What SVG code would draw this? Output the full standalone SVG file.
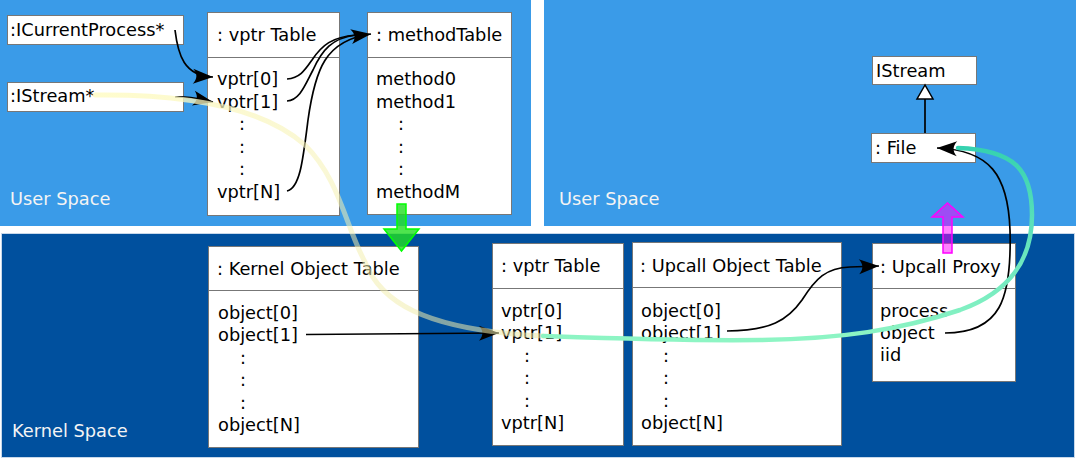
<svg xmlns="http://www.w3.org/2000/svg" width="1076" height="458" viewBox="0 0 1076 458">
<defs>
<style>
text{font-family:"DejaVu Sans","Liberation Sans",sans-serif;font-size:17.8px;fill:#000}
.lbl{fill:#f4f4f4}
.box{fill:#fff;stroke:#777;stroke-width:1}
.div{stroke:#777;stroke-width:1}
.con{fill:none;stroke:#000;stroke-width:1.7}
.arr{marker-end:url(#ah)}
</style>
<marker id="ah" markerUnits="userSpaceOnUse" markerWidth="24" markerHeight="20" viewBox="-22 -10 24 20" refX="0" refY="0" orient="auto">
<path d="M0,0 L-20,-7.5 C-15.5,-2.5 -15.5,2.5 -20,7.5 Z" fill="#000"/>
</marker>
<linearGradient id="gy" gradientUnits="userSpaceOnUse" x1="95" y1="95" x2="543" y2="336">
<stop offset="0" stop-color="#fffcc8" stop-opacity="0.9"/>
<stop offset="0.45" stop-color="#f6f2b4" stop-opacity="0.55"/>
<stop offset="1" stop-color="#ece8a8" stop-opacity="0.55"/>
</linearGradient>
<linearGradient id="gg" gradientUnits="userSpaceOnUse" x1="0" y1="340" x2="0" y2="150">
<stop offset="0" stop-color="#8ef5c4"/>
<stop offset="0.4" stop-color="#6ee8bf"/>
<stop offset="1" stop-color="#36d2b0"/>
</linearGradient>
</defs>
<rect width="1076" height="458" fill="#fff"/>
<g id="panels">
<rect x="0" y="0" width="531" height="226" fill="#3a9be8"/>
<rect x="544" y="0" width="532" height="226" fill="#3a9be8"/>
<rect x="1.5" y="233.5" width="1073" height="224" fill="#00509e" stroke="#c8d8ea" stroke-width="1"/>
<text class="lbl" x="10" y="205">User Space</text>
<text class="lbl" x="559" y="205">User Space</text>
<text class="lbl" x="12" y="437">Kernel Space</text>
</g>
<g id="icurrentprocess">
<rect class="box" x="7.5" y="15.5" width="176" height="29"/>
<text x="10" y="36">:ICurrentProcess*</text>
</g>
<g id="istream-ptr">
<rect class="box" x="7.5" y="82.5" width="176" height="29"/>
<text x="10" y="102">:IStream*</text>
</g>
<g id="user-vptr-table">
<rect class="box" x="207.5" y="12.5" width="132" height="203"/>
<line class="div" x1="207.5" y1="57.5" x2="339.5" y2="57.5"/>
<text x="217" y="41">: vptr Table</text>
<text x="217" y="85">vptr[0]</text>
<text x="217" y="107.5">vptr[1]</text>
<text x="239" y="130">:</text>
<text x="239" y="152.5">:</text>
<text x="239" y="175">:</text>
<text x="217" y="197.5">vptr[N]</text>
</g>
<g id="method-table">
<rect class="box" x="367.5" y="12.5" width="144" height="202"/>
<line class="div" x1="367.5" y1="57.5" x2="511.5" y2="57.5"/>
<text x="376" y="41">: methodTable</text>
<text x="376" y="85">method0</text>
<text x="376" y="107.5">method1</text>
<text x="398" y="130">:</text>
<text x="398" y="152.5">:</text>
<text x="398" y="175">:</text>
<text x="376" y="197.5">methodM</text>
</g>
<g id="istream-class">
<rect class="box" x="872.5" y="56.5" width="104" height="28"/>
<text x="876" y="77">IStream</text>
</g>
<g id="file">
<rect class="box" x="871.5" y="133.5" width="104" height="29"/>
<text x="875" y="154">: File</text>
</g>
<g id="kernel-object-table">
<rect class="box" x="208.5" y="246.5" width="210" height="201"/>
<line class="div" x1="208.5" y1="290.5" x2="418.5" y2="290.5"/>
<text x="217" y="275">: Kernel Object Table</text>
<text x="218" y="318.5">object[0]</text>
<text x="218" y="341">object[1]</text>
<text x="240" y="363.5">:</text>
<text x="240" y="386">:</text>
<text x="240" y="408.5">:</text>
<text x="218" y="431">object[N]</text>
</g>
<g id="kernel-vptr-table">
<rect class="box" x="492.5" y="243.5" width="131" height="202"/>
<line class="div" x1="492.5" y1="288.5" x2="623.5" y2="288.5"/>
<text x="501" y="272">: vptr Table</text>
<text x="501" y="316.5">vptr[0]</text>
<text x="501" y="339">vptr[1]</text>
<text x="524" y="361.5">:</text>
<text x="524" y="384">:</text>
<text x="524" y="406.5">:</text>
<text x="501" y="428.5">vptr[N]</text>
</g>
<g id="upcall-object-table">
<rect class="box" x="632.5" y="242.5" width="209" height="203"/>
<line class="div" x1="632.5" y1="287.5" x2="841.5" y2="287.5"/>
<text x="640" y="272">: Upcall Object Table</text>
<text x="641" y="316.5">object[0]</text>
<text x="641" y="339">object[1]</text>
<text x="663" y="361.5">:</text>
<text x="663" y="384">:</text>
<text x="663" y="406.5">:</text>
<text x="641" y="428.5">object[N]</text>
</g>
<g id="upcall-proxy">
<rect class="box" x="872.5" y="243.5" width="143" height="138"/>
<line class="div" x1="872.5" y1="288.5" x2="1015.5" y2="288.5"/>
<text x="880" y="273">: Upcall Proxy</text>
<text x="880" y="317">process</text>
<text x="880" y="339">object</text>
<text x="880" y="361">iid</text>
</g>
<g id="connectors">
<path class="con arr" d="M175,30 C178,55 184,76 213,77"/>
<path class="con arr" d="M175,97 C190,96 198,99 213,102"/>
<path class="con" d="M287,79 C300,78 305,70 312,60 C322,45 332,37 356,35"/>
<path class="con" d="M287,101 C300,100 305,85 313,70 C322,50 332,38 356,35"/>
<path class="con arr" d="M287,191 C300,188 303,160 308,120 C315,70 325,40 371,34"/>
<path class="con arr" d="M306,334.5 L499,333"/>
<path class="con arr" d="M727,331 C770,331 788,320 802,300 C816,278 826,268 850,267 L879,266"/>
<path class="con arr" d="M945,333 C1000,333 1012,300 1010,230 C1008,175 990,150 937,148"/>
<line x1="925" y1="133" x2="925" y2="99" stroke="#000" stroke-width="1.7"/>
<polygon points="925,85 917,99 933,99" fill="#fff" stroke="#000" stroke-width="1.5"/>
<path d="M95,95 C180,94 260,105 305,145 C340,180 345,225 365,262 C380,300 420,330 543,336" fill="none" stroke="url(#gy)" stroke-width="5" stroke-linecap="round"/>
<path d="M543,336 C600,338 680,341 760,340 C840,339 900,330 960,310 C1010,292 1032,260 1032,215 C1032,170 1015,150 958,148" fill="none" stroke="url(#gg)" stroke-width="4.5" stroke-linecap="round"/>
<polygon points="397,204 406,204 406,229 419,229 401.5,251 384,229 397,229" fill="#22dd22" fill-opacity="0.8" stroke="#00ff00" stroke-width="1.5"/>
<polygon points="943,253 952,253 952,217 963,217 947.5,203 932,217 943,217" fill="#ff00ff" fill-opacity="0.5" stroke="#ff00ff" stroke-width="1.5"/>
</g>
</svg>
